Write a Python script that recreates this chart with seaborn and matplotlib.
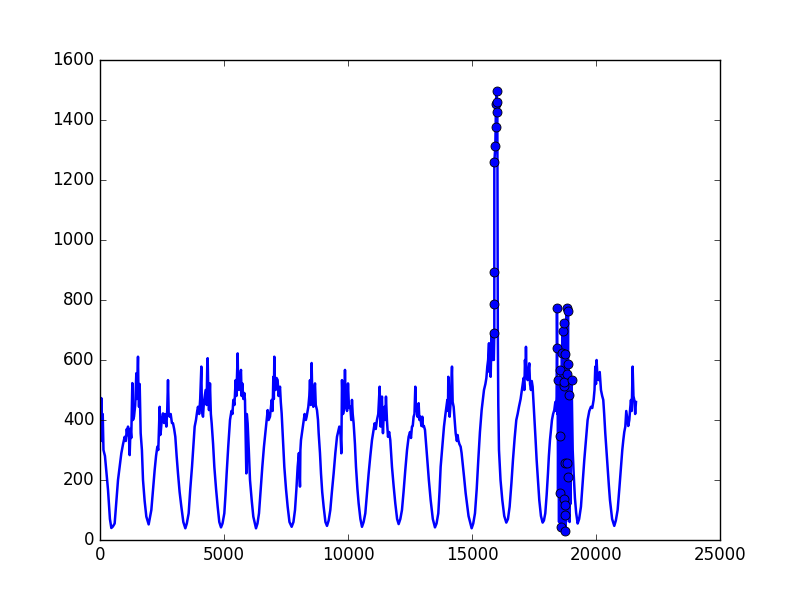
import numpy as np
import pandas as pd
import matplotlib
matplotlib.use('Agg')
import matplotlib.pyplot as plt
import seaborn as sns

# ==========================================
# 0. 数据 (从图中读取的时间序列与异常点)
# ==========================================
series_x = [
    0, 20, 40, 54, 80, 110, 140, 200, 323, 400, 457, 520, 591, 660, 726, 800, 860, 930, 995, 1040,
    1080, 1110, 1129, 1160, 1196, 1230, 1260, 1304, 1330, 1371, 1420, 1465, 1490, 1532, 1550, 1573,
    1600, 1640, 1690, 1734, 1800, 1868, 1962, 2070, 2140, 2204, 2260, 2312, 2350, 2380, 2406, 2430,
    2446, 2490, 2540, 2580, 2620, 2675, 2710, 2742, 2770, 2809, 2850, 2900, 2943, 2990, 3037, 3090,
    3145, 3210, 3280, 3360, 3441, 3500, 3575, 3640, 3710, 3770, 3817, 3870, 3920, 3951, 4000, 4040,
    4086, 4110, 4153, 4190, 4220, 4260, 4300, 4328, 4341, 4370, 4395, 4435, 4470, 4503, 4560, 4610,
    4680, 4745, 4810, 4879, 4940, 5013, 5060, 5107, 5170, 5242, 5300, 5340, 5376, 5420, 5470, 5500,
    5551, 5570, 5604, 5640, 5685, 5710, 5738, 5780, 5820, 5846, 5900, 5920, 5953, 6000, 6048, 6120,
    6182, 6290, 6350, 6411, 6480, 6545, 6610, 6680, 6720, 6761, 6800, 6855, 6890, 6922, 6960, 6989,
    7010, 7029, 7050, 7083, 7120, 7163, 7200, 7258, 7290, 7325, 7380, 7432, 7500, 7567, 7640, 7728,
    7800, 7863, 7920, 7970, 8020, 8064, 8080, 8104, 8150, 8198, 8250, 8300, 8332, 8370, 8400, 8440,
    8467, 8500, 8533, 8560, 8601, 8640, 8669, 8700, 8749, 8790, 8817, 8870, 8911, 8960, 9018, 9090,
    9153, 9220, 9287, 9350, 9421, 9490, 9556, 9600, 9650, 9700, 9731, 9745, 9758, 9800, 9851, 9865,
    9878, 9900, 9932, 9960, 10000, 10040, 10093, 10130, 10160, 10190, 10227, 10280, 10322, 10380,
    10429, 10500, 10564, 10630, 10698, 10760, 10833, 10900, 10967, 11020, 11074, 11120, 11168, 11220,
    11276, 11300, 11316, 11340, 11370, 11390, 11410, 11440, 11477, 11500, 11531, 11570, 11612, 11660,
    11705, 11740, 11773, 11840, 11907, 11980, 12042, 12110, 12176, 12240, 12310, 12380, 12445, 12500,
    12540, 12579, 12610, 12646, 12680, 12714, 12740, 12781, 12810, 12848, 12880, 12915, 12960, 12996,
    13023, 13060, 13104, 13150, 13198, 13260, 13333, 13420, 13507, 13570, 13641, 13690, 13736, 13800,
    13870, 13930, 14005, 14030, 14045, 14070, 14099, 14140, 14193, 14220, 14260, 14300, 14341, 14390,
    14420, 14448, 14490, 14542, 14580, 14609, 14680, 14744, 14860, 14986, 15050, 15120, 15190, 15254,
    15320, 15389, 15440, 15483, 15540, 15580, 15617, 15650, 15685, 15700, 15724, 15752, 15780, 15792,
    15820, 15850, 15880, 15900, 15900, 15900, 15900, 15940, 15954, 15967, 15994, 15994, 16021, 16040,
    16060, 16088, 16150, 16222, 16300, 16383, 16450, 16517, 16590, 16652, 16720, 16786, 16840, 16894,
    16960, 17028, 17080, 17110, 17136, 17160, 17176, 17200, 17243, 17270, 17310, 17340, 17378, 17410,
    17445, 17480, 17512, 17560, 17606, 17660, 17713, 17780, 17848, 17900, 17955, 18010, 18063, 18100,
    18144, 18190, 18224, 18270, 18318, 18360, 18390, 18412, 18426, 18426, 18440, 18453, 18470, 18490,
    18510, 18530, 18547, 18555, 18560, 18560, 18570, 18587, 18600, 18610, 18628, 18640, 18655, 18670,
    18695, 18695, 18705, 18722, 18722, 18740, 18762, 18762, 18762, 18762, 18762, 18780, 18790, 18816,
    18816, 18816, 18830, 18840, 18856, 18870, 18875, 18883, 18900, 18924, 18935, 18950, 18970, 19017,
    19060, 19100, 19150, 19200, 19260, 19320, 19393, 19460, 19528, 19600, 19662, 19730, 19796, 19850,
    19904, 19940, 19971, 20000, 20024, 20060, 20104, 20150, 20200, 20250, 20293, 20330, 20374, 20420,
    20468, 20520, 20563, 20650, 20737, 20800, 20872, 20940, 21007, 21060, 21101, 21140, 21182, 21220,
    21249, 21300, 21343, 21380, 21410, 21440, 21477, 21510, 21544, 21580, 21612,
]
series_y = [
    400, 450, 410, 473, 330, 420, 300, 280, 167, 70, 40, 45, 55, 130, 200, 250, 289, 320, 344, 330,
    370, 350, 378, 360, 283, 370, 340, 523, 400, 411, 450, 556, 470, 611, 500, 444,
    520, 356, 300, 200, 130, 78, 52, 100, 170, 233, 280, 311, 300, 380, 444, 350,
    356, 400, 422, 390, 420, 378, 430, 533, 420, 411, 420, 390, 389, 370, 344, 280,
    222, 160, 111, 60, 39, 55, 89, 170, 244, 320, 378, 400, 430, 444, 420, 470,
    578, 430, 411, 460, 478, 500, 450, 600, 606, 480, 433, 522, 420, 389, 320, 244,
    170, 111, 60, 42, 55, 89, 150, 222, 310, 400, 430, 420, 467, 450, 533, 480,
    622, 520, 500, 540, 567, 480, 522, 470, 490, 467, 222, 420, 389, 300, 200, 130,
    78, 39, 55, 89, 170, 244, 310, 367, 400, 433, 400, 411, 440, 467, 430, 544,
    470, 611, 520, 500, 540, 533, 480, 511, 460, 422, 330, 244, 170, 111, 60, 44,
    60, 100, 170, 244, 290, 178, 300, 333, 360, 389, 420, 400, 411, 430, 444, 480,
    533, 450, 590, 480, 444, 500, 522, 450, 433, 400, 356, 290, 222, 160, 111, 60,
    47, 65, 100, 160, 222, 290, 344, 360, 378, 350, 289, 400, 533, 420, 444, 480,
    567, 440, 478, 430, 522, 440, 444, 400, 467, 420, 389, 320, 244, 170,
    122, 70, 44, 60, 89, 150, 222, 280, 333, 360, 389, 370, 400, 420,
    511, 420, 378, 450, 478, 400, 356, 420, 444, 400, 478, 400, 344, 360,
    333, 290, 244, 180, 122, 70, 53, 70, 100, 160, 233, 300, 344, 360,
    340, 378, 380, 411, 420, 511, 430, 444, 410, 456, 400, 411, 380, 411,
    378, 380, 367, 320, 267, 200, 133, 70, 42, 55, 89, 160, 244, 310,
    378, 420, 467, 430, 544, 440, 411, 460, 578, 460, 444, 400, 356, 330,
    350, 333, 320, 311, 290, 267, 210, 156, 80, 39, 55, 89, 170, 267,
    360, 433, 470, 500, 520, 540, 578, 600, 656, 560, 600, 544, 650, 689,
    600, 640, 600, 689, 786, 892, 1259, 1312, 1376, 1452, 1497, 1426, 1461, 700,
    450, 300, 200, 133, 80, 58, 70, 111, 190, 267, 340, 400, 420, 444,
    470, 511, 540, 500, 600, 560, 644, 540, 533, 560, 589, 520, 500, 530,
    511, 460, 411, 340, 267, 200, 133, 80, 58, 65, 89, 150, 222, 280,
    333, 370, 400, 420, 433, 460, 430, 478, 639, 772, 420, 533, 150, 480,
    60, 450, 347, 80, 567, 156, 460, 44, 470, 90, 622, 100, 698, 60,
    722, 513, 120, 528, 137, 470, 620, 256, 118, 83, 31, 450, 60, 772,
    553, 256, 430, 70, 211, 762, 100, 587, 80, 483, 60, 400, 120, 533,
    300, 220, 140, 90, 55, 70, 111, 190, 267, 340, 400, 430, 444, 440,
    467, 500, 578, 520, 600, 540, 533, 560, 500, 480, 467, 420, 356, 300,
    244, 180, 133, 70, 47, 65, 100, 170, 244, 300, 333, 360, 378, 430,
    411, 380, 400, 440, 467, 430, 578, 480, 467, 420, 460,
]

# 异常点 (圆点标记)
anom_x = [15900, 15900, 15900, 15900, 15940, 15954, 15967, 15994, 15994, 16021,
          18426, 18426, 18453, 18547, 18560, 18560, 18587, 18628, 18655, 18695,
          18695, 18722, 18722, 18762, 18762, 18762, 18762, 18762, 18816, 18816,
          18816, 18856, 18870, 18883, 18924, 19017]
anom_y = [689, 786, 892, 1259, 1312, 1376, 1452, 1497, 1426, 1461,
          639, 772, 533, 347, 567, 156, 44, 622, 698, 722,
          513, 528, 137, 620, 256, 118, 83, 31, 772, 553,
          256, 211, 762, 587, 483, 533]

# ==========================================
# 1. 绘图 (经典 matplotlib 风格)
# ==========================================
plt.style.use('classic')

fig, ax = plt.subplots(figsize=(8, 6), dpi=100)

# 线宽稍粗, 模拟原图密集噪声造成的"粗线"效果
sns.lineplot(x=series_x, y=series_y, estimator=None, sort=False,
             color='b', linewidth=1.8, ax=ax)
sns.scatterplot(x=anom_x, y=anom_y, color='b', edgecolor='k',
                s=42, linewidth=0.6, zorder=3, ax=ax)

ax.set_xlim(0, 25000)
ax.set_ylim(0, 1600)
ax.set_xticks(range(0, 25001, 5000))
ax.set_yticks(range(0, 1601, 200))

fig.savefig('out.png', dpi=100, facecolor='white')
